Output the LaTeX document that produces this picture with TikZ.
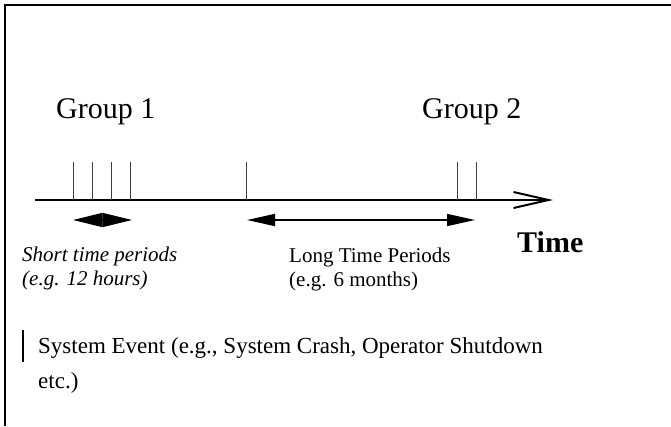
\documentclass[tikz,border=0pt]{standalone}
\usepackage{fontspec}
\setmainfont{Liberation Serif}
\usetikzlibrary{arrows.meta}
\begin{document}
\begin{tikzpicture}[x=1pt,y=-1pt,
  frame/.style={line width=2.5pt},
  axisline/.style={line width=2pt,-{Straight Barb[length=35pt,width=16pt,line width=2pt]}},
  tick/.style={line width=0.9pt,black!75},
  span/.style={line width=1.6pt},
  grouplabel/.style={font=\fontsize{30}{34}\selectfont,anchor=base west,inner sep=0pt},
  note/.style={font=\fontsize{21}{24}\selectfont,anchor=base west,align=left,inner sep=0pt},
  legend/.style={font=\fontsize{23}{35}\selectfont,anchor=base west,align=left,inner sep=0pt}]
\useasboundingbox (0,0) rectangle (671,426);

% open frame: top and left edges only
\coordinate (tl) at (5,5);
\coordinate (tr) at (671,5);
\coordinate (bl) at (5,426);
\draw[frame] (tr) -- (tl) -- (bl);

% group labels
\node[grouplabel] (g1) at (56,118) {Group 1};
\node[grouplabel] (g2) at (422,118) {Group 2};

% time axis
\coordinate (axL) at (35,200);
\coordinate (axR) at (553,200);
\draw[axisline] (axL) -- (axR);
\node[font=\fontsize{30}{34}\selectfont\bfseries,anchor=base west,inner sep=0pt] (time) at (517,252) {Time};

% event ticks
\foreach \n/\x in {a/73,b/92,c/111,d/130,e/246,f/457,g/476}{
  \coordinate (\n top) at (\x,162);
  \coordinate (\n bot) at (\x,200);
  \draw[tick] (\n top) -- (\n bot);
}

% period spans
\coordinate (s1) at (73,220);
\coordinate (s2) at (132,220);
\draw[span,{Triangle[length=29.5pt,width=14pt]}-{Triangle[length=29.5pt,width=14pt]}] (s1) -- (s2);
\coordinate (l1) at (247,220);
\coordinate (l2) at (475,220);
\draw[span,{Triangle[length=28pt,width=12pt]}-{Triangle[length=28pt,width=12pt]}] (l1) -- (l2);

% span descriptions (anchored at the baseline of their last line)
\node[note,font=\fontsize{21}{24}\selectfont\itshape] (short) at (22,285) {Short time periods\\(e.g. 12 hours)};
\node[note] (long) at (289,286) {Long Time Periods\\(e.g. 6 months)};

% legend
\coordinate (k1) at (23,330);
\coordinate (k2) at (23,362);
\draw[line width=2pt] (k1) -- (k2);
\node[legend] (ev) at (38,388) {System Event (e.g., System Crash, Operator Shutdown\\etc.)};
\end{tikzpicture}
\end{document}
